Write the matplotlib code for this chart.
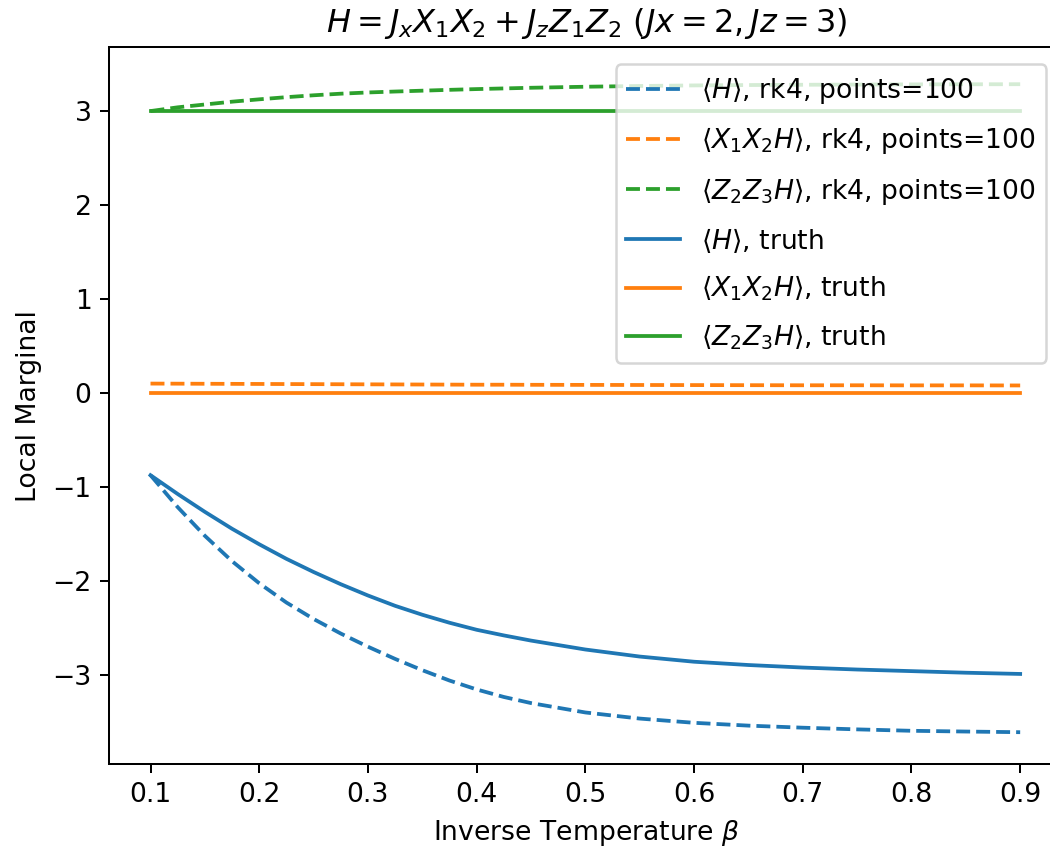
import numpy as np
import matplotlib
matplotlib.use('Agg')
import matplotlib.pyplot as plt

plt.rcParams['font.size'] = 10.6

# Inverse temperature grid
beta = [0.1, 0.125, 0.15, 0.175, 0.2, 0.225, 0.25, 0.275, 0.3, 0.325, 0.35, 0.375, 0.4, 0.425,
        0.45, 0.5, 0.55, 0.6, 0.65, 0.7, 0.75, 0.8, 0.85, 0.9]

# rk4 estimates
h_rk4 = [-0.875, -1.215, -1.52, -1.79, -2.025, -2.23, -2.405, -2.56, -2.70, -2.83, -2.95, -3.06, -3.155, -3.235,
         -3.30, -3.40, -3.465, -3.51, -3.54, -3.562, -3.58, -3.595, -3.603, -3.61]
xxh_rk4 = [0.100, 0.099, 0.098, 0.097, 0.096, 0.095, 0.094, 0.093, 0.092, 0.091, 0.090, 0.089, 0.088, 0.088,
           0.087, 0.086, 0.085, 0.084, 0.083, 0.082, 0.082, 0.081, 0.081, 0.080]
zzh_rk4 = [3.0, 3.04, 3.07, 3.10, 3.125, 3.148, 3.168, 3.185, 3.198, 3.208, 3.217, 3.226, 3.234, 3.241,
           3.248, 3.259, 3.267, 3.273, 3.277, 3.28, 3.282, 3.284, 3.285, 3.286]

# exact values
h_truth = [-0.875, -1.075, -1.265, -1.445, -1.61, -1.765, -1.905, -2.035, -2.155, -2.265, -2.36, -2.445, -2.52, -2.58,
           -2.635, -2.73, -2.805, -2.86, -2.895, -2.922, -2.943, -2.96, -2.977, -2.99]
xxh_truth = [0.0] * len(beta)
zzh_truth = [3.0] * len(beta)

dpi = 181
fig = plt.figure(figsize=(1050 / dpi, 850 / dpi), dpi=dpi)
ax = fig.add_axes([0.104, 0.101, 0.909, 0.8435])

ax.plot(beta, h_rk4, '--', color='C0', label=r'$\langle H \rangle$, rk4, points=100')
ax.plot(beta, xxh_rk4, '--', color='C1', label=r'$\langle X_1 X_2 H \rangle$, rk4, points=100')
ax.plot(beta, zzh_rk4, '--', color='C2', label=r'$\langle Z_2 Z_3 H \rangle$, rk4, points=100')
ax.plot(beta, h_truth, '-', color='C0', label=r'$\langle H \rangle$, truth')
ax.plot(beta, xxh_truth, '-', color='C1', label=r'$\langle X_1 X_2 H \rangle$, truth')
ax.plot(beta, zzh_truth, '-', color='C2', label=r'$\langle Z_2 Z_3 H \rangle$, truth')

ax.set_xlim(0.062, 0.94)
ax.set_ylim(-3.95, 3.68)
ax.set_xticks([0.1, 0.2, 0.3, 0.4, 0.5, 0.6, 0.7, 0.8, 0.9])
ax.set_yticks([-3, -2, -1, 0, 1, 2, 3])

ax.set_title(r'$H = J_x X_1 X_2 + J_z Z_1 Z_2\ (Jx = 2, Jz = 3)$')
ax.set_xlabel(r'Inverse Temperature $\beta$')
ax.set_ylabel('Local Marginal')
ax.legend(loc='upper right', labelspacing=0.72, borderaxespad=0.65)

fig.savefig('out.png', dpi=dpi)
